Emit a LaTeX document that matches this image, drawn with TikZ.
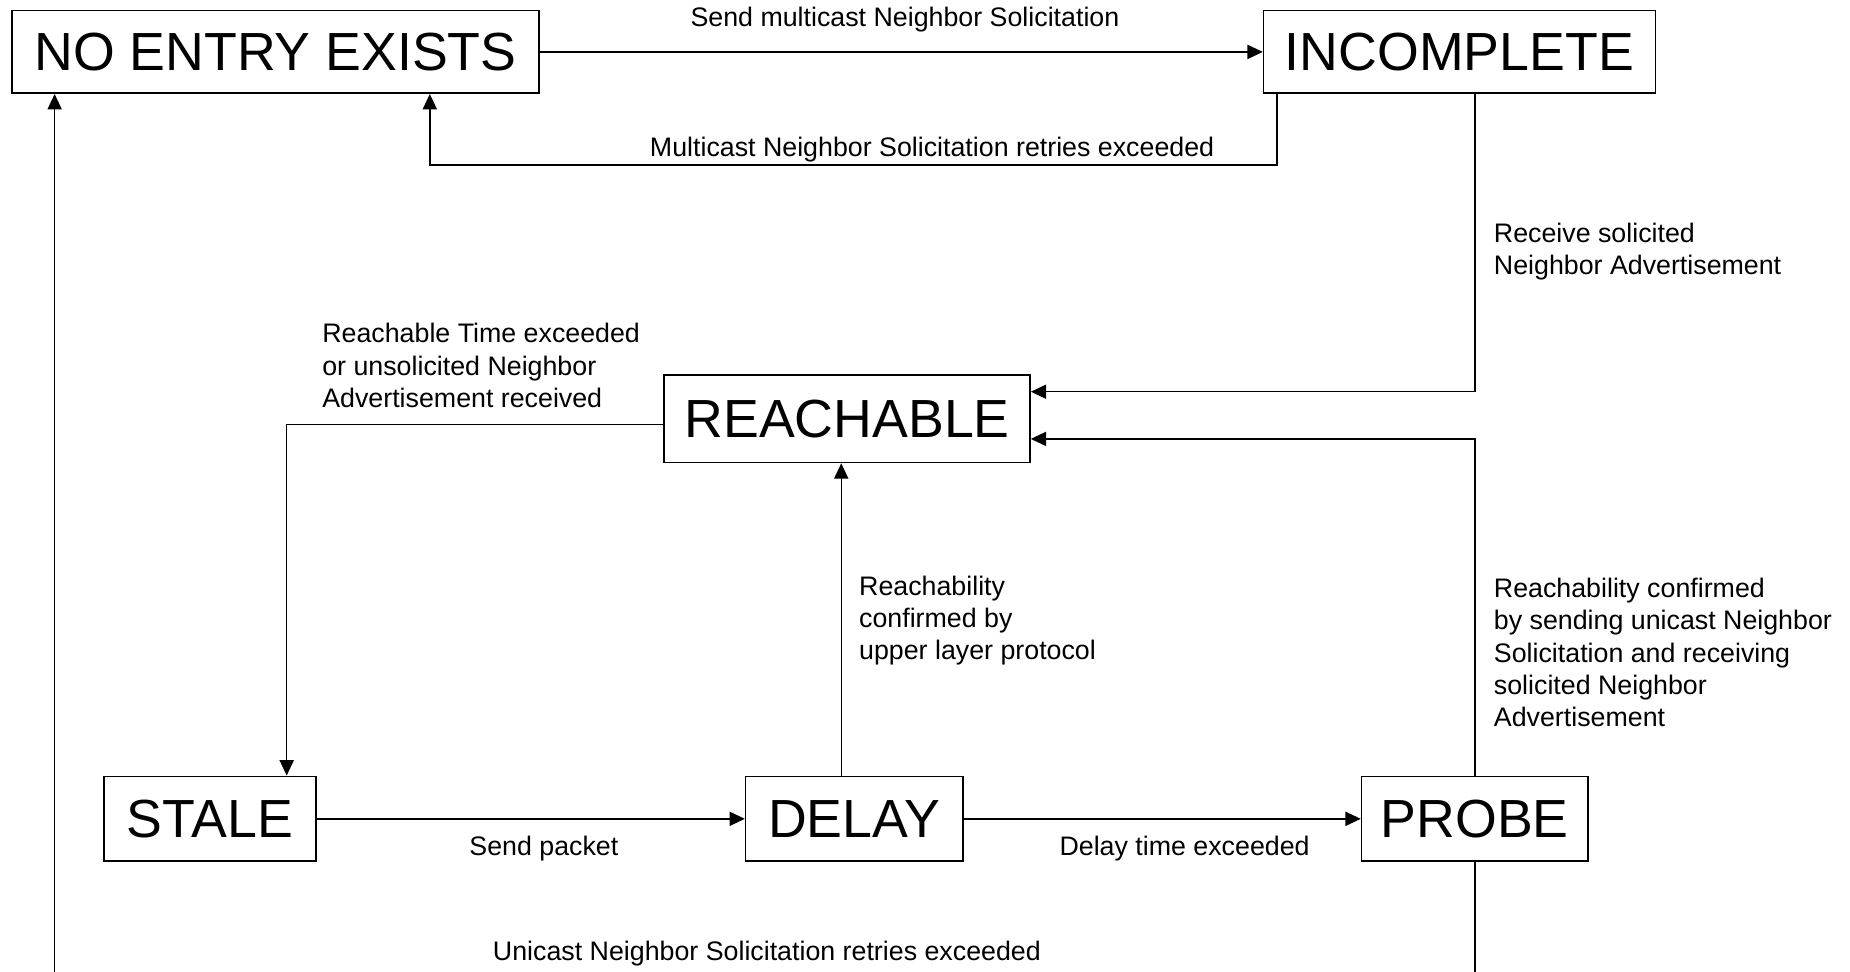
\documentclass[tikz,border=0pt]{standalone}
\usepackage{fontspec}
\setmainfont{Liberation Sans}
\usetikzlibrary{arrows.meta}
\begin{document}
\begin{tikzpicture}[x=1pt,y=-1pt,
  state/.style={draw, line width=1.4pt, font=\fontsize{45.5}{50}\selectfont, inner sep=0pt, minimum height=70pt},
  lbl/.style={font=\fontsize{22.7}{27.5}\selectfont, inner sep=0pt},
  conn/.style={line width=1.2pt, -{Triangle[length=13pt,width=12pt]}}]
\useasboundingbox (0,0) rectangle (1568,823);
\fill[white] (0,0) rectangle (1568,823);
\clip (0,0) rectangle (1568,823);
% states
\node[state, minimum width=447pt] (noentry) at (233.5,44) {NO ENTRY EXISTS};
\node[state, minimum width=332pt] (incomplete) at (1237,44) {INCOMPLETE};
\node[state, minimum width=310pt, minimum height=74pt] (reachable) at (718,355) {REACHABLE};
\node[state, minimum width=180pt, minimum height=72pt] (stale) at (178,694) {STALE};
\node[state, minimum width=184pt, minimum height=72pt] (delay) at (724,694) {DELAY};
\node[state, minimum width=192pt, minimum height=72pt] (probe) at (1250,694) {PROBE};
% connectors
\draw[conn] (noentry.east) -- (incomplete.west);
\draw[conn] ([xshift=12pt]incomplete.south west) -- ++(0,60) -| ([xshift=355pt]noentry.south west);
\draw[conn] (incomplete.south -| probe.north) |- ([yshift=23pt]reachable.east);
\draw[conn] (probe.north) |- ([yshift=-17pt]reachable.east);
\draw[conn] ([yshift=-5pt]reachable.west) -| ([xshift=65pt]stale.north);
\draw[conn] ([xshift=-11pt]delay.north) -- ([xshift=-11pt]delay.north |- reachable.south);
\draw[conn] (stale.east) -- (delay.west);
\draw[conn] (delay.east) -- (probe.west);
\draw[conn] (probe.south) -- ++(0,120) -| ([xshift=37pt]noentry.south west);
% labels
\node[lbl] (l1) at (767,17) {Send multicast Neighbor Solicitation};
\node[lbl] (l2) at (790,127) {Multicast Neighbor Solicitation retries exceeded};
\node[lbl, align=left, anchor=west] (l3) at (1266,213) {Receive solicited\\Neighbor Advertisement};
\node[lbl, align=left, anchor=west] (l4) at (273,310) {Reachable Time exceeded\\or unsolicited Neighbor\\Advertisement received};
\node[lbl, align=left, anchor=west] (l5) at (728,526) {Reachability\\confirmed by\\upper layer protocol};
\node[lbl, align=left, anchor=west] (l6) at (1266,553) {Reachability confirmed\\by sending unicast Neighbor\\Solicitation and receiving\\solicited Neighbor\\Advertisement};
\node[lbl] (l7) at (461,719) {Send packet};
\node[lbl] (l8) at (1004,719) {Delay time exceeded};
\node[lbl] (l9) at (650,808) {Unicast Neighbor Solicitation retries exceeded};
\end{tikzpicture}
\end{document}
